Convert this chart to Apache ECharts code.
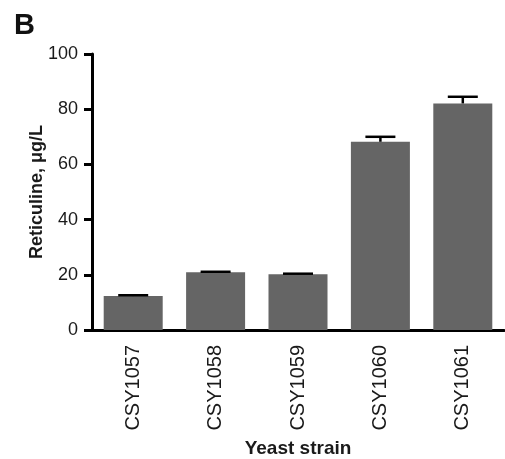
<!DOCTYPE html>
<html>
<head>
<meta charset="utf-8">
<script src="https://cdn.jsdelivr.net/npm/echarts@6/dist/echarts.min.js"></script>
<style>html,body{margin:0;padding:0;background:#fff;}#c{width:505px;height:459px;}</style>
</head>
<body>
<div id="c"></div>
<script>
const strains = ['CSY1057', 'CSY1058', 'CSY1059', 'CSY1060', 'CSY1061'];
const means = [12.3, 20.9, 20.2, 68.2, 82.1];
const errs = [0.3, 0.2, 0.2, 1.8, 2.4];
const yTicks = [0, 20, 40, 60, 80, 100];

const chart = echarts.init(document.getElementById('c'));
const font = '"Liberation Sans", Arial, sans-serif';
chart.setOption({
  animation: false,
  title: {
    text: 'B', left: 14, top: 11, padding: 0,
    textStyle: { fontFamily: font, fontWeight: 'bold', fontSize: 29, color: '#111' }
  },
  grid: { left: 92, top: 54, width: 412, height: 276, containLabel: false, outerBoundsMode: 'none' },
  xAxis: {
    type: 'category',
    data: strains,
    name: 'Yeast strain',
    nameLocation: 'middle',
    nameGap: 109,
    nameMoveOverlap: false,
    nameTextStyle: { fontFamily: font, fontWeight: 'bold', fontSize: 19, color: '#1a1a1a' },
    axisLine: { lineStyle: { color: '#000', width: 3 } },
    axisTick: { alignWithLabel: true, length: 11, lineStyle: { color: '#000', width: 3 } },
    axisLabel: { rotate: 90, margin: 15, fontFamily: font, fontSize: 20, color: '#1a1a1a' }
  },
  yAxis: {
    type: 'value',
    min: yTicks[0], max: yTicks[yTicks.length - 1], interval: 20,
    name: 'Reticuline, μg/L',
    nameLocation: 'middle',
    nameGap: 46,
    nameMoveOverlap: false,
    nameTextStyle: { fontFamily: font, fontWeight: 'bold', fontSize: 18, color: '#1a1a1a' },
    axisLine: { show: true, lineStyle: { color: '#000', width: 3 } },
    axisTick: { show: true, length: 8, lineStyle: { color: '#000', width: 3 } },
    splitLine: { show: false },
    axisLabel: { margin: 14, fontFamily: font, fontSize: 18, color: '#1a1a1a' }
  },
  series: [
    {
      type: 'bar',
      data: means,
      barWidth: 59,
      itemStyle: { color: '#656565' },
      z: 2
    },
    {
      type: 'custom',
      z: 3,
      data: means.map((m, i) => [i, m, m + errs[i]]),
      renderItem: function (params, api) {
        const i = api.value(0);
        const lo = api.coord([i, api.value(1)]);
        const hi = api.coord([i, api.value(2)]);
        const hw = 15;
        return {
          type: 'group',
          children: [
            { type: 'line', shape: { x1: lo[0], y1: lo[1], x2: hi[0], y2: hi[1] }, style: { stroke: '#000', lineWidth: 2.5 } },
            { type: 'line', shape: { x1: hi[0] - hw, y1: hi[1], x2: hi[0] + hw, y2: hi[1] }, style: { stroke: '#000', lineWidth: 2.5 } }
          ]
        };
      }
    }
  ]
});
</script>
</body>
</html>
